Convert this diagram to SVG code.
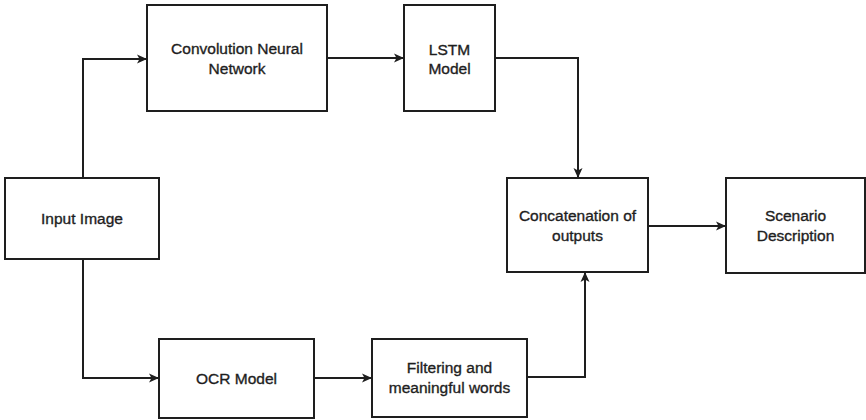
<svg xmlns="http://www.w3.org/2000/svg" width="866" height="420" viewBox="0 0 866 420">
<style>
.box{fill:#ffffff;stroke:#1e1e1e;stroke-width:2}
.lbl{font-family:"Liberation Sans",Arial,sans-serif;font-size:15.5px;fill:#1e1e1e;stroke:#1e1e1e;stroke-width:0.35;text-anchor:middle}
.edge{fill:none;stroke:#1e1e1e;stroke-width:2;marker-end:url(#arr)}
</style>
<defs>
<marker id="arr" markerUnits="userSpaceOnUse" markerWidth="12" markerHeight="12" viewBox="0 0 12 12" refX="11" refY="6" orient="auto">
<path d="M1,1.5 L11,6 L1,10.5 L3.5,6 Z" fill="#1e1e1e"/>
</marker>
</defs>
<rect width="866" height="420" fill="#ffffff"/>
<g id="connectors">
<path class="edge" d="M83,178 V59 H147"/>
<path class="edge" d="M83,259 V378 H159"/>
<path class="edge" d="M327,58 H404"/>
<path class="edge" d="M495,58 H578 V178"/>
<path class="edge" d="M314,378 H372"/>
<path class="edge" d="M527,377 H585 V272"/>
<path class="edge" d="M648,226 H726"/>
</g>
<g id="input-image">
<rect class="box" x="5" y="178" width="154" height="81"/>
<text class="lbl" x="82" y="224">Input Image</text>
</g>
<g id="cnn">
<rect class="box" x="147" y="5" width="180" height="106"/>
<text class="lbl" x="237" y="54">Convolution Neural</text>
<text class="lbl" x="237" y="74">Network</text>
</g>
<g id="lstm">
<rect class="box" x="404" y="5" width="91" height="106"/>
<text class="lbl" x="449.5" y="55">LSTM</text>
<text class="lbl" x="449.5" y="74">Model</text>
</g>
<g id="concat">
<rect class="box" x="507" y="178" width="141" height="94"/>
<text class="lbl" x="577.5" y="221">Concatenation of</text>
<text class="lbl" x="577.5" y="241">outputs</text>
</g>
<g id="scenario">
<rect class="box" x="726" y="178" width="139" height="95"/>
<text class="lbl" x="795.5" y="221">Scenario</text>
<text class="lbl" x="795.5" y="241">Description</text>
</g>
<g id="ocr">
<rect class="box" x="159" y="339" width="155" height="79"/>
<text class="lbl" x="236.5" y="384">OCR Model</text>
</g>
<g id="filtering">
<rect class="box" x="372" y="339" width="155" height="78"/>
<text class="lbl" x="449.5" y="373">Filtering and</text>
<text class="lbl" x="449.5" y="393">meaningful words</text>
</g>
</svg>
